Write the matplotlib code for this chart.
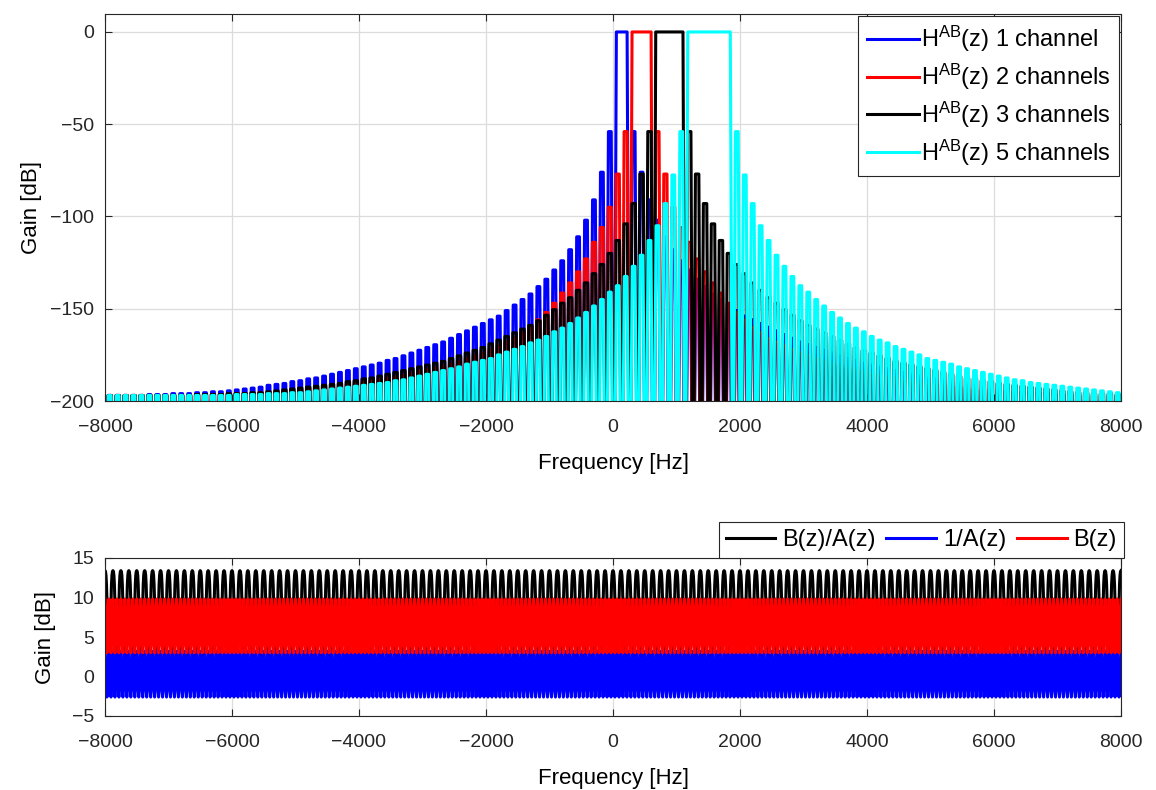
import numpy as np
import matplotlib.pyplot as plt

plt.rcParams['font.family'] = ['Liberation Sans', 'DejaVu Sans']
plt.rcParams['mathtext.default'] = 'regular'

####################
# Data (read off)  #
####################
# comb teeth every 125 Hz
tooth_step = 125
tooth_first = -7925
n_teeth = 128

# passband teeth (first, last) in Hz
pass_blue = (75, 200)
pass_red = (325, 575)
pass_black = (700, 1075)
pass_cyan = (1200, 1825)

# peak of the n-th side lobe (n = 1, 2, ...) away from the passband, dB
lobes_blue = [-54, -76, -91, -102, -111, -118, -124, -129, -134, -138,
              -142, -145, -148, -151, -154, -156, -158, -160, -162, -164,
              -166, -168, -169.5, -171, -172.5, -174, -175.5, -177, -178, -179.5,
              -180.5, -181.5, -182.5, -183.5, -184.5, -185.5, -186.5, -187.5, -188, -189,
              -189.5, -190.5, -191, -191.5, -192.5, -193, -193.5, -194, -194.5, -195,
              -195, -195.5, -195.5, -196, -196, -196, -196.5, -196.5, -196.5, -197]
lobes_red = [-54, -77, -95, -106, -114, -123, -130, -136, -141.5, -147,
             -152, -156, -160, -163, -166, -168, -170, -172, -174, -175.5,
             -177, -178.5, -180, -181, -182, -183, -184, -185, -186, -187,
             -187.5, -188.5, -189, -190, -190.5, -191, -191.5, -192, -192.5, -193,
             -193.5, -194, -194.5, -195, -195, -195.5, -195.5, -196, -196, -196,
             -196.5, -196.5, -196.5, -197]
lobes_black = [-54, -77, -93, -104, -113, -120, -126, -131, -136, -140,
               -144, -147, -150.5, -153.5, -156.5, -159, -161, -163, -165, -167,
               -169, -171, -172.5, -174, -175.5, -177, -178.5, -179.5, -180.5, -181.5,
               -182.5, -183.5, -184.5, -185.5, -186.5, -187.5, -188, -189, -189.5, -190.5,
               -191, -191.5, -192, -192.5, -193, -193.5, -194, -194.5, -195, -195.5,
               -195.5, -196, -196, -196, -196.5, -196.5, -196.5, -196.5, -197]
lobes_cyan = [-54, -77.5, -93, -105, -113, -121, -127, -132.5, -137.5, -141,
              -145, -148.5, -152, -155, -158, -160.5, -162.5, -165, -167, -168.5,
              -170.5, -172, -173.5, -175, -177, -178, -179, -180, -181.5, -182.5,
              -183.5, -184.5, -185.5, -186.5, -187.5, -188.5, -189, -190, -190.5, -191,
              -191.5, -192, -192.5, -193, -193.5, -194, -194.5, -195, -195.5, -195.5,
              -196, -196, -196, -196.5, -196.5, -196.5, -196.5, -197]

top_labels = [r'H$^{AB}$(z) 1 channel', r'H$^{AB}$(z) 2 channels',
              r'H$^{AB}$(z) 3 channels', r'H$^{AB}$(z) 5 channels']

# one 125 Hz period of the lower plot curves, dB
period_black = [13.4, 13.3, 12.8, 11.6, 9.4, 6.5, 3.8, 2.0,
                1.4, 2.0, 3.8, 6.5, 9.4, 11.6, 12.8, 13.3]
period_red = [9.8, 8.8, 6.4, 4.0, 3.0, 4.0, 6.4, 8.8,
              9.8, 8.8, 6.4, 4.0, 3.0, 4.0, 6.4, 8.8]
period_blue = [3.2, 2.35, 0.3, -1.75, -2.6, -1.75, 0.3, 2.35,
               3.2, 2.35, 0.3, -1.75, -2.6, -1.75, 0.3, 2.35]
bottom_labels = ['B(z)/A(z)', '1/A(z)', 'B(z)']


#####################
# Utility Functions #
#####################
def comb_curve(passband, lobes, hw=20, floor=-300):
    centers = tooth_first + tooth_step * np.arange(n_teeth)
    xs, ys = [], []
    prev_pass = False
    for c in centers:
        if passband[0] <= c <= passband[1]:
            peak = 0.0
        elif c < passband[0]:
            d = int(round((passband[0] - c) / tooth_step))
            peak = lobes[min(d, len(lobes)) - 1]
        else:
            d = int(round((c - passband[1]) / tooth_step))
            peak = lobes[min(d, len(lobes)) - 1]
        in_pass = peak == 0.0
        if not (in_pass and prev_pass):
            xs.append(c - tooth_step / 2)
            ys.append(floor)
        xs += [c - hw, c + hw]
        ys += [peak, peak]
        prev_pass = in_pass
    xs.append(centers[-1] + tooth_step / 2)
    ys.append(floor)
    return np.array(xs), np.array(ys)


def periodic_curve(period_vals, start=-8000, stop=8000):
    n = len(period_vals)
    n_per = int((stop - start) / tooth_step)
    x = start + np.arange(n_per * n + 1) * tooth_step / n
    y = np.array(list(period_vals) * n_per + [period_vals[0]])
    return x, y


def matlab_axes(ax):
    for s in ax.spines.values():
        s.set_color('#262626')
        s.set_linewidth(0.8)
    ax.tick_params(direction='in', top=True, right=True, length=5,
                   labelsize=14, colors='#262626', width=0.8)
    ax.tick_params(axis='x', pad=13)
    ax.tick_params(axis='y', pad=8)
    ax.grid(True, color='#dcdcdc', linewidth=0.9)
    ax.set_axisbelow(True)


fig = plt.figure(figsize=(11.56, 7.9), dpi=100)
ax1 = fig.add_axes([105 / 1156, 1 - 401 / 790, 1016 / 1156, 387.5 / 790])
ax2 = fig.add_axes([105 / 1156, 1 - 716 / 790, 1016 / 1156, 158 / 790])

# upper plot
for pb, lb, col, lab, hw in zip([pass_blue, pass_red, pass_black, pass_cyan],
                                [lobes_blue, lobes_red, lobes_black, lobes_cyan],
                                ['#0000ff', '#ff0000', '#000000', '#00ffff'], top_labels,
                                [22, 25, 27, 22]):
    x, y = comb_curve(pb, lb, hw=hw)
    ax1.plot(x, y, color=col, linewidth=2.2, label=lab)

ax1.set_xlim(-8000, 8000)
ax1.set_ylim(-200, 10)
ax1.set_yticks([-200, -150, -100, -50, 0])
ax1.set_xticks(np.arange(-8000, 8001, 2000))
ax1.set_xlabel('Frequency [Hz]', fontsize=16, labelpad=12)
ax1.set_ylabel('Gain [dB]', fontsize=16, labelpad=6)
matlab_axes(ax1)
leg = ax1.legend(loc='upper right', fontsize=17, handlelength=2.2, handletextpad=0.1,
                 labelspacing=0.32, borderaxespad=0.1, borderpad=0.35,
                 fancybox=False, framealpha=1, edgecolor='#262626')
leg.get_frame().set_linewidth(0.8)

# lower plot
for pv, col, lab in zip([period_black, period_blue, period_red],
                        ['#000000', '#0000ff', '#ff0000'], bottom_labels):
    x, y = periodic_curve(pv)
    ax2.plot(x, y, color=col, linewidth=2.2, label=lab)

ax2.set_xlim(-8000, 8000)
ax2.set_ylim(-5, 15)
ax2.set_yticks([-5, 0, 5, 10, 15])
ax2.set_xticks(np.arange(-8000, 8001, 2000))
ax2.set_xlabel('Frequency [Hz]', fontsize=16, labelpad=12)
ax2.set_ylabel('Gain [dB]', fontsize=16, labelpad=11)
matlab_axes(ax2)
leg2 = ax2.legend(loc='lower right', bbox_to_anchor=(1.003, 1.0), ncol=3, fontsize=17,
                  handlelength=2.1, handletextpad=0.3, columnspacing=0.45,
                  borderaxespad=0.0, borderpad=0.3,
                  fancybox=False, framealpha=1, edgecolor='#262626')
leg2.get_frame().set_linewidth(0.8)

fig.savefig('out.png', dpi=100)
